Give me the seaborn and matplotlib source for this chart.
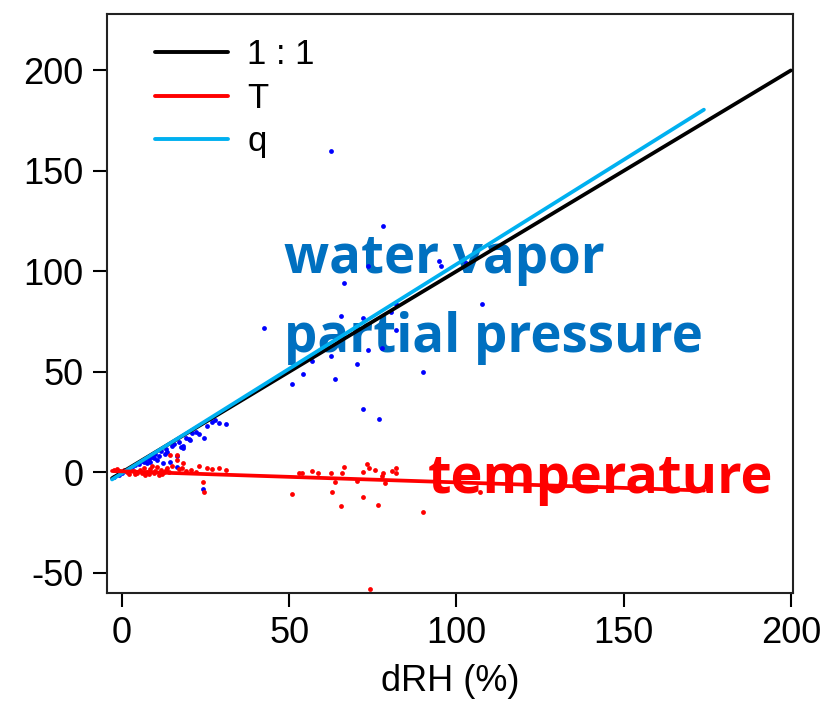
import numpy as np
import pandas as pd
import matplotlib
matplotlib.use("Agg")
import matplotlib.pyplot as plt
import seaborn as sns
from matplotlib.lines import Line2D

# puntos q (azul): dRH vs contribucion de q
q_x = [173.4, 62.4, 77.9, 73.4, 94.9, 95.5, 103.0, 66.3, 42.4, 65.4, 72.0, 82.0,
       80.3, 107.5, 81.8, 73.4, 77.6, 62.4, 56.7, 70.4, 54.0, 50.7, 63.6, 90.1,
       72.0, 76.7, 31.0, 29.0, 27.8, 26.9, 25.4, 23.0, 24.5, 20.3, 18.2, 18.2,
       16.4, 14.3, 12.2, 16.4, 24.2, 14.9, 13.0, 11.5, 10.0, 9.0, 8.0, 7.0,
       6.0, 5.0, 4.0, 3.0, 2.0, 1.0, 0.0, -1.0, -2.5, 15.5, 17.0, 19.0,
       21.0, 22.0, 12.8, 11.0, 9.5, 8.5, 7.5, 6.5, 13.5, 10.5, 20.0, 17.5]
q_y = [228.9, 159.7, 122.4, 102.5, 105.0, 102.5, 104.0, 94.0, 71.6, 77.6, 77.0, 83.6,
       79.6, 83.6, 71.0, 60.7, 61.7, 57.7, 55.2, 53.7, 48.8, 43.8, 46.3, 49.8,
       31.3, 26.4, 23.9, 24.4, 25.9, 24.9, 22.9, 18.9, 16.9, 15.9, 11.9, 12.9,
       8.0, 5.0, 4.5, 2.5, -8.5, 12.9, 11.5, 10.5, 9.0, 7.5, 6.5, 6.0,
       5.5, 4.0, 3.5, 2.5, 1.5, 0.5, -0.5, -1.5, -2.5, 14.0, 15.0, 17.0,
       19.5, 20.0, 9.0, 8.0, 7.0, 5.0, 4.5, 5.0, 10.0, 6.0, 16.5, 12.5]

# puntos T (rojo)
t_x = [14.3, 16.4, 16.4, 18.2, 23.0, 25.4, 29.0, 24.2, 24.5, 50.7, 52.8, 53.7,
       56.7, 58.5, 62.4, 62.7, 63.6, 65.4, 65.7, 66.3, 72.0, 73.1, 73.7, 75.5,
       77.9, 80.6, 81.8, 81.8, 77.6, 78.5, 70.4, 72.0, 74.0, 76.4, 89.9, 106.9,
       -2.5, -1.5, -0.5, 0.5, 1.5, 2.5, 3.5, 4.5, 5.5, 6.5, 7.5, 8.5,
       9.5, 10.5, 11.5, 12.5, 13.5, 15.0, 17.0, 19.0, 20.5, 22.0, 27.0, 31.0,
       2.0, 4.0, 6.0, 8.0, 10.0, 12.0, 14.0, 9.0, 11.0, 13.0, 7.0, 18.0]
t_y = [8.5, 8.5, 6.0, 4.5, 3.0, 2.0, 2.0, -5.0, -10.0, -11.0, -0.5, -0.5,
       0.5, -0.5, -0.5, -10.0, -5.0, -17.0, -0.5, 2.5, 0.0, 4.0, 2.0, 1.0,
       -0.5, 0.5, 2.0, -0.5, -2.0, -5.5, -4.5, -12.4, -58.0, -16.4, -19.9, -10.0,
       1.0, 1.5, 0.5, 1.0, 0.0, 1.5, 0.5, -0.5, 1.0, 2.0, 0.0, 1.5,
       -0.5, 2.5, 1.0, 0.0, 2.0, 3.0, 1.5, 0.5, 1.0, 0.0, 1.5, 1.0,
       -1.0, -1.0, -0.5, -1.0, 0.5, -1.0, 0.0, 3.0, -1.5, 1.0, -1.5, 2.0]

# ajustes lineales (pendiente, intercepto) y rango de dRH
q_fit = (1.04, -0.5)
t_fit = (-0.055, 0.43)
fit_range = (-3.0, 174.0)
one_range = (-3.0, 200.0)

sns.set_style("ticks")
plt.rcParams['font.family'] = ['Liberation Sans', 'DejaVu Sans']
plt.rcParams['axes.unicode_minus'] = False
plt.rcParams['text.color'] = 'black'
plt.rcParams['axes.labelcolor'] = 'black'

fig = plt.figure(figsize=(8.36, 7.09), dpi=100)
ax = fig.add_axes([0.128, 0.164, 0.82, 0.816])

xs = np.array(fit_range)
x1 = np.array(one_range)
lines = pd.DataFrame({
    "x": np.concatenate([x1, xs, xs]),
    "y": np.concatenate([x1, q_fit[0] * xs + q_fit[1], t_fit[0] * xs + t_fit[1]]),
    "serie": ["1 : 1"] * 2 + ["q"] * 2 + ["T"] * 2,
})

sns.scatterplot(x=q_x, y=q_y, color="#0000FF", s=12, linewidth=0, ax=ax, zorder=2)
sns.scatterplot(x=t_x, y=t_y, color="#FF0000", s=12, linewidth=0, ax=ax, zorder=2)

colores = {"1 : 1": "black", "T": "#FF0000", "q": "#00B0F0"}
sns.lineplot(data=lines, x="x", y="y", hue="serie", hue_order=["1 : 1", "q", "T"],
             palette=colores, linewidth=2.7, ax=ax, zorder=3, legend=False)

# leyenda manual con orden 1:1, T, q
handles = [Line2D([], [], color=colores[k], linewidth=2.8) for k in ["1 : 1", "T", "q"]]
ax.legend(handles, ["1 : 1", "T", "q"], loc="upper left", frameon=False, fontsize=25,
          handlelength=2.1, handletextpad=0.55, labelspacing=0.3,
          bbox_to_anchor=(0.025, 1.012))

fuente = ["Open Sans", "DejaVu Sans"]
ax.text(48.5, 99, "water vapor", color="#0070C0", fontsize=38,
        fontweight="bold", family=fuente, va="baseline", zorder=1)
ax.text(48.5, 60, "partial pressure", color="#0070C0", fontsize=38,
        fontweight="bold", family=fuente, va="baseline", zorder=1)
ax.text(91.5, -10.4, "temperature", color="#FF0000", fontsize=39,
        fontweight="bold", family=fuente, va="baseline", zorder=1)

ax.set_xlim(-4.5, 200.5)
ax.set_ylim(-60, 228)
ax.set_xticks([0, 50, 100, 150, 200])
ax.set_yticks([-50, 0, 50, 100, 150, 200])
ax.tick_params(axis="both", labelsize=26, length=10, width=1.5, colors="black", pad=7)
for sp in ax.spines.values():
    sp.set_linewidth(1.5)
    sp.set_color("#222222")
ax.set_xlabel("dRH (%)", fontsize=26, labelpad=9)
ax.set_ylabel("")

fig.savefig("out.png", dpi=100)
